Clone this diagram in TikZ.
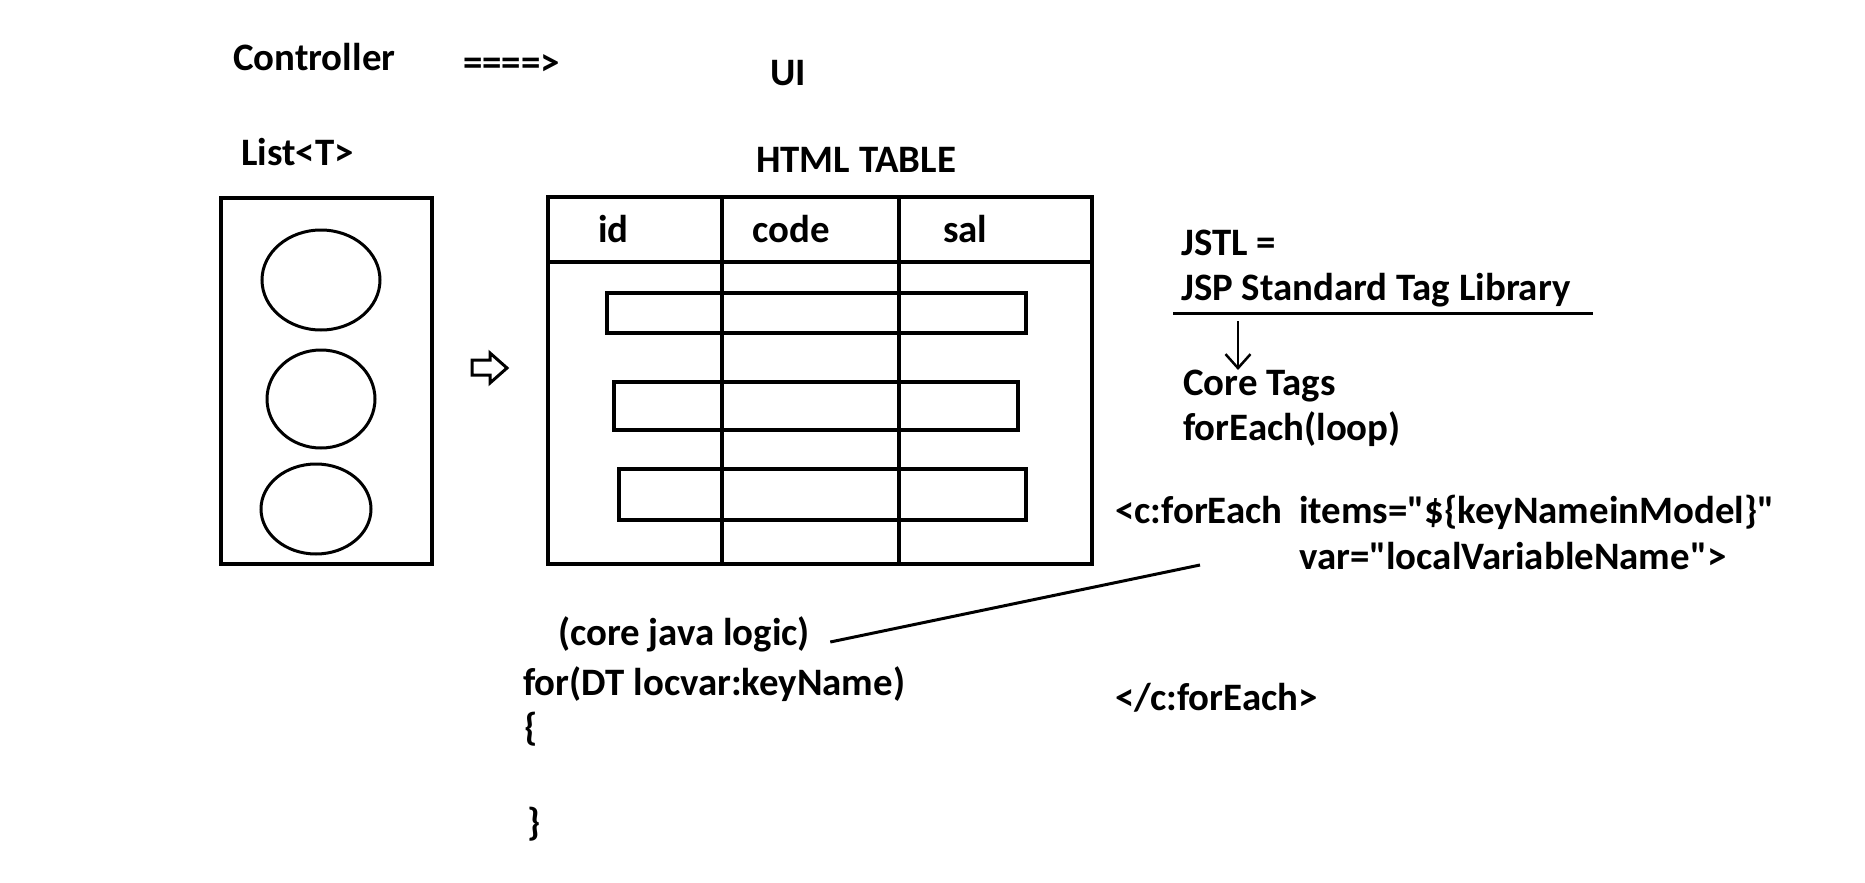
\documentclass[tikz,border=0pt]{standalone}
\usepackage{fontspec}
\setmainfont{Carlito}[Ligatures=TeXOff]
\usetikzlibrary{arrows.meta}
\tikzstyle{plaintext} = [font=\bfseries\fontsize{39}{47}\selectfont, inner sep=0pt, anchor=base west]
\tikzstyle{thickline} = [line width=3.5bp]
\tikzstyle{rowbox} = [draw, line width=3.5bp]
\tikzstyle{listitem} = [draw, line width=3bp]

\begin{document}
\begin{tikzpicture}[x=1bp,y=-1bp]
	\useasboundingbox (0,0) rectangle (1865,883);
	% headings
	\node[plaintext] (controller) at (233,70) {Controller};
	\node[plaintext] (sends) at (463,75) {====>};
	\node[plaintext] (ui) at (770,85) {UI};
	\node[plaintext] (listt) at (241,165) {List<T>};
	\node[plaintext] (htmltable) at (756,172) {HTML TABLE};

	% the list with its objects
	\draw[thickline] (221,198) rectangle (432,564);
	\draw[listitem] (321,280) ellipse [x radius=59bp, y radius=50bp];
	\draw[listitem] (321,399) ellipse [x radius=54bp, y radius=49bp];
	\draw[listitem] (316,509) ellipse [x radius=55bp, y radius=45bp];
	\draw[line width=3bp, line join=miter] (472,360) -- (490,360) -- (490,353) -- (507,368)
		-- (490,383) -- (490,375) -- (472,375) -- cycle;

	% the html table
	\draw[thickline] (548,197) rectangle (1092,564);
	\draw[thickline] (548,262) -- (1092,262);
	\draw[thickline] (722,197) -- (722,564);
	\draw[thickline] (899,197) -- (899,564);
	\node[plaintext] (colid) at (598,242) {id};
	\node[plaintext] (colcode) at (752,242) {code};
	\node[plaintext] (colsal) at (943,242) {sal};
	\foreach \xa/\ya/\xb/\yb in {607/293/1026/333, 614/382/1018/430, 619/469/1026/520}
		\draw[rowbox] (\xa,\ya) rectangle (\xb,\yb);

	% jstl
	\node[plaintext] (jstl) at (1181,255) {JSTL =};
	\node[plaintext] (jsp) at (1181,300) {JSP Standard Tag Library};
	\coordinate (ulstart) at (1173,313);
	\coordinate (ulend) at (1593,313);
	\draw[line width=3bp] (ulstart) -- (ulend);
	\node[plaintext] (coretags) at (1183,395) {Core Tags};
	\node[plaintext] (foreachloop) at (1183,440) {forEach(loop)};
	\coordinate (arrowtop) at (1238,321);
	\coordinate (arrowtip) at (1238,370);
	\draw[line width=2.5bp, -{Straight Barb[length=14bp, width=25bp]}] (arrowtop) -- (arrowtip);

	% the tag
	\node[plaintext] (cforeach) at (1115,523) {<c:forEach};
	\node[plaintext] (items) at (1299,523) {items="\$\{keyNameinModel\}"};
	\node[plaintext] (var) at (1299,569) {var="localVariableName">};
	\node[plaintext] (endtag) at (1115,710) {</c:forEach>};

	% java loop
	\node[plaintext] (javalogic) at (558,645) {(core java logic)};
	\node[plaintext] (forloop) at (523,695) {for(DT locvar:keyName)};
	\node[plaintext] (openbrace) at (524,740) {\{};
	\node[plaintext] (closebrace) at (527,835) {\}};
	\coordinate (tagpoint) at (1200,565);
	\draw[line width=3bp] ([xshift=20bp,yshift=3bp]javalogic.base east) -- (tagpoint);
\end{tikzpicture}
\end{document}
